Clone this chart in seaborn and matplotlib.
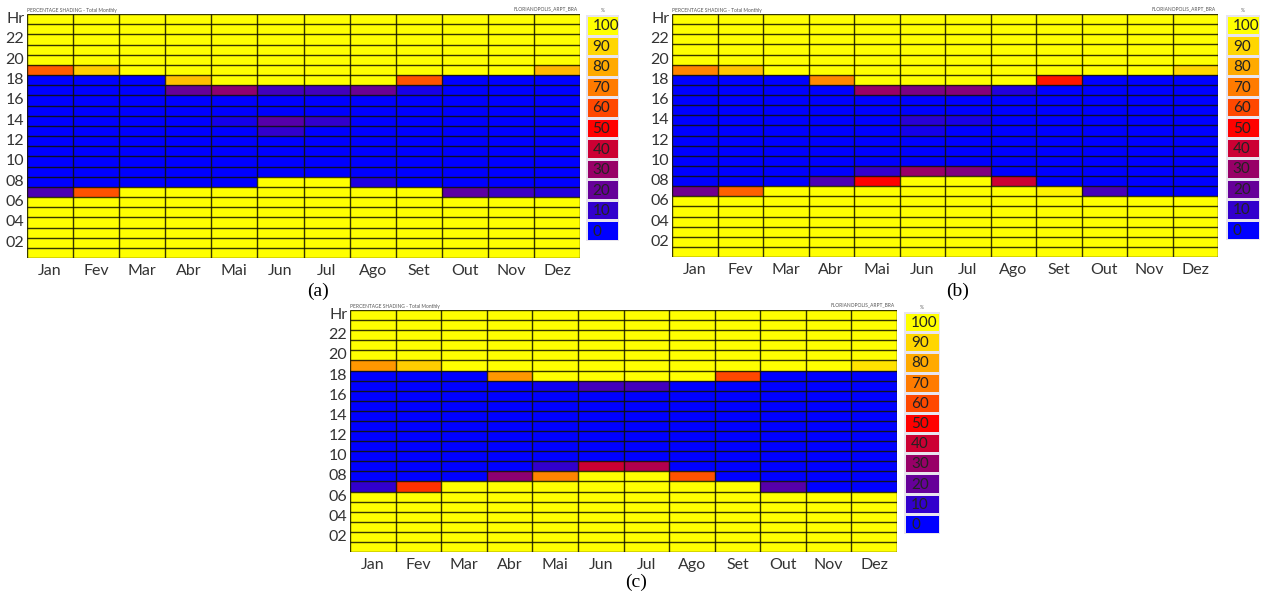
import numpy as np
import seaborn as sns
import matplotlib.pyplot as plt
from matplotlib.colors import LinearSegmentedColormap

# labels
months = ['Jan', 'Fev', 'Mar', 'Abr', 'Mai', 'Jun', 'Jul', 'Ago', 'Set', 'Out', 'Nov', 'Dez']
hour_labels = ['Hr', '', '22', '', '20', '', '18', '', '16', '', '14', '', '12',
               '', '10', '', '08', '', '06', '', '04', '', '02', '']
levels = [100, 90, 80, 70, 60, 50, 40, 30, 20, 10, 0]
level_colors = ['#0000ff', '#3300cc', '#660099', '#990066', '#cc0033', '#ff0000',
                '#ff4800', '#ff7a00', '#ffaa00', '#ffd500', '#ffff00']

# percentage shading, rows = hour 24 (top) ... hour 1 (bottom), cols = months
shading_a = [
    [100, 100, 100, 100, 100, 100, 100, 100, 100, 100, 100, 100],
    [100, 100, 100, 100, 100, 100, 100, 100, 100, 100, 100, 100],
    [100, 100, 100, 100, 100, 100, 100, 100, 100, 100, 100, 100],
    [100, 100, 100, 100, 100, 100, 100, 100, 100, 100, 100, 100],
    [100, 100, 100, 100, 100, 100, 100, 100, 100, 100, 100, 100],
    [64, 88, 100, 100, 100, 100, 100, 100, 100, 100, 100, 83],
    [0, 0, 0, 85, 100, 100, 100, 100, 62, 0, 0, 0],
    [0, 0, 0, 20, 28, 13, 13, 21, 5, 0, 0, 0],
    [0, 0, 0, 0, 0, 0, 0, 0, 0, 0, 0, 0],
    [0, 0, 0, 0, 0, 0, 0, 0, 0, 0, 0, 0],
    [0, 0, 0, 0, 4, 17, 10, 0, 0, 0, 0, 0],
    [0, 0, 0, 0, 0, 10, 0, 0, 0, 0, 0, 0],
    [0, 0, 0, 0, 0, 0, 0, 0, 0, 0, 0, 0],
    [0, 0, 0, 0, 0, 0, 0, 0, 0, 0, 0, 0],
    [0, 0, 0, 0, 0, 0, 0, 0, 0, 0, 0, 0],
    [0, 0, 0, 0, 0, 0, 0, 0, 0, 0, 0, 0],
    [0, 0, 0, 0, 0, 100, 100, 6, 0, 0, 0, 0],
    [15, 62, 100, 100, 100, 100, 100, 100, 100, 18, 12, 7],
    [100, 100, 100, 100, 100, 100, 100, 100, 100, 100, 100, 100],
    [100, 100, 100, 100, 100, 100, 100, 100, 100, 100, 100, 100],
    [100, 100, 100, 100, 100, 100, 100, 100, 100, 100, 100, 100],
    [100, 100, 100, 100, 100, 100, 100, 100, 100, 100, 100, 100],
    [100, 100, 100, 100, 100, 100, 100, 100, 100, 100, 100, 100],
    [100, 100, 100, 100, 100, 100, 100, 100, 100, 100, 100, 100],
]

shading_b = [
    [100, 100, 100, 100, 100, 100, 100, 100, 100, 100, 100, 100],
    [100, 100, 100, 100, 100, 100, 100, 100, 100, 100, 100, 100],
    [100, 100, 100, 100, 100, 100, 100, 100, 100, 100, 100, 100],
    [100, 100, 100, 100, 100, 100, 100, 100, 100, 100, 100, 100],
    [100, 100, 100, 100, 100, 100, 100, 100, 100, 100, 100, 100],
    [72, 86, 100, 100, 100, 100, 100, 100, 100, 100, 100, 90],
    [0, 0, 0, 73, 100, 100, 100, 100, 53, 0, 0, 0],
    [0, 0, 0, 0, 30, 24, 26, 7, 0, 0, 0, 0],
    [0, 0, 0, 0, 0, 0, 0, 0, 0, 0, 0, 0],
    [0, 0, 0, 0, 0, 0, 0, 0, 0, 0, 0, 0],
    [0, 0, 0, 0, 0, 8, 5, 0, 0, 0, 0, 0],
    [0, 0, 0, 0, 0, 4, 0, 0, 0, 0, 0, 0],
    [0, 0, 0, 0, 0, 0, 0, 0, 0, 0, 0, 0],
    [0, 0, 0, 0, 0, 0, 0, 0, 0, 0, 0, 0],
    [0, 0, 0, 0, 0, 0, 0, 0, 0, 0, 0, 0],
    [0, 0, 0, 0, 10, 30, 25, 0, 0, 0, 0, 0],
    [0, 0, 0, 15, 50, 100, 100, 40, 0, 0, 0, 0],
    [22, 65, 100, 100, 100, 100, 100, 100, 97, 14, 0, 0],
    [100, 100, 100, 100, 100, 100, 100, 100, 100, 100, 100, 100],
    [100, 100, 100, 100, 100, 100, 100, 100, 100, 100, 100, 100],
    [100, 100, 100, 100, 100, 100, 100, 100, 100, 100, 100, 100],
    [100, 100, 100, 100, 100, 100, 100, 100, 100, 100, 100, 100],
    [100, 100, 100, 100, 100, 100, 100, 100, 100, 100, 100, 100],
    [100, 100, 100, 100, 100, 100, 100, 100, 100, 100, 100, 100],
]

shading_c = [
    [100, 100, 100, 100, 100, 100, 100, 100, 100, 100, 100, 100],
    [100, 100, 100, 100, 100, 100, 100, 100, 100, 100, 100, 100],
    [100, 100, 100, 100, 100, 100, 100, 100, 100, 100, 100, 100],
    [100, 100, 100, 100, 100, 100, 100, 100, 100, 100, 100, 100],
    [100, 100, 100, 100, 100, 100, 100, 100, 100, 100, 100, 100],
    [76, 88, 100, 100, 100, 100, 100, 100, 100, 100, 100, 93],
    [0, 0, 0, 76, 100, 100, 100, 100, 60, 0, 0, 0],
    [0, 0, 0, 0, 3, 13, 13, 0, 0, 0, 0, 0],
    [0, 0, 0, 0, 0, 0, 0, 0, 0, 0, 0, 0],
    [0, 0, 0, 0, 0, 0, 0, 0, 0, 0, 0, 0],
    [0, 0, 0, 0, 0, 0, 0, 0, 0, 0, 0, 0],
    [0, 0, 0, 0, 0, 0, 0, 0, 0, 0, 0, 0],
    [0, 0, 0, 0, 0, 0, 0, 0, 0, 0, 0, 0],
    [0, 0, 0, 0, 0, 0, 0, 0, 0, 0, 0, 0],
    [0, 0, 0, 0, 0, 0, 0, 0, 0, 0, 0, 0],
    [0, 0, 0, 0, 10, 40, 35, 0, 0, 0, 0, 0],
    [0, 0, 0, 28, 72, 100, 100, 62, 0, 0, 0, 0],
    [10, 57, 100, 100, 100, 100, 100, 100, 100, 17, 0, 0],
    [100, 100, 100, 100, 100, 100, 100, 100, 100, 100, 100, 100],
    [100, 100, 100, 100, 100, 100, 100, 100, 100, 100, 100, 100],
    [100, 100, 100, 100, 100, 100, 100, 100, 100, 100, 100, 100],
    [100, 100, 100, 100, 100, 100, 100, 100, 100, 100, 100, 100],
    [100, 100, 100, 100, 100, 100, 100, 100, 100, 100, 100, 100],
    [100, 100, 100, 100, 100, 100, 100, 100, 100, 100, 100, 100],
]

cmap = LinearSegmentedColormap.from_list('shading', level_colors)

W, H = 1263, 596
fig = plt.figure(figsize=(W / 100, H / 100), dpi=100)
plt.rcParams['font.family'] = ['Lato', 'DejaVu Sans']

grid_col = (0.08, 0.08, 0.0, 0.85)


def box(l, t, r, b):
    # pixel box -> figure fraction
    return [l / W, 1 - b / H, (r - l) / W, (b - t) / H]


def draw_panel(data, map_box, bar_box, caption, cap_xy):
    arr = np.array(data)
    ax = fig.add_axes(box(*map_box))
    sns.heatmap(arr, ax=ax, cmap=cmap, vmin=0, vmax=100, cbar=False,
                linewidths=0, xticklabels=months, yticklabels=hour_labels)
    # cell borders drawn as plain lines so every one shows up
    nr, nc = arr.shape
    ax.hlines(np.arange(nr + 1), 0, nc, colors=[grid_col], linewidth=1.0)
    ax.vlines(np.arange(nc + 1), 0, nr, colors=[grid_col], linewidth=1.0)
    ax.tick_params(length=0, labelsize=11.5, colors='#333333', pad=4)
    ax.tick_params(axis='y', pad=2)
    plt.setp(ax.get_yticklabels(), rotation=0, va='center')
    ax.set_xlabel('')
    ax.set_ylabel('')
    ax.text(0.0, 1.005, 'PERCENTAGE SHADING - Total Monthly', transform=ax.transAxes,
            fontsize=3.5, color='#555555', va='bottom', ha='left')
    ax.text(0.995, 1.01, 'FLORIANOPOLIS_ARPT_BRA', transform=ax.transAxes,
            fontsize=3.5, color='#555555', va='bottom', ha='right')

    # legend column
    bx = fig.add_axes(box(*bar_box))
    sns.heatmap(np.array(levels).reshape(-1, 1), ax=bx, cmap=cmap, vmin=0, vmax=100,
                cbar=False, linewidths=0.8, linecolor='#e8e4ee',
                xticklabels=False, yticklabels=False)
    for i, lv in enumerate(levels):
        bx.text(0.2, i + 0.55, str(lv), fontsize=11, color='#222222',
                ha='left', va='center')
    bx.text(0.5, 1.01, '%', transform=bx.transAxes, fontsize=3.5,
            color='#555555', ha='center', va='bottom')

    fig.text(cap_xy[0] / W, 1 - cap_xy[1] / H, caption, fontsize=14,
             family='Liberation Serif', ha='center', va='center')


draw_panel(shading_a, (27, 14, 580, 258), (586, 15, 619, 241), '(a)', (318, 291))
draw_panel(shading_b, (672, 14, 1218, 257), (1226, 15, 1260, 240), '(b)', (958, 291))
draw_panel(shading_c, (350, 310, 897, 552), (904, 312, 940, 534), '(c)', (636, 582))

fig.savefig('out.png', dpi=100, facecolor='white')
